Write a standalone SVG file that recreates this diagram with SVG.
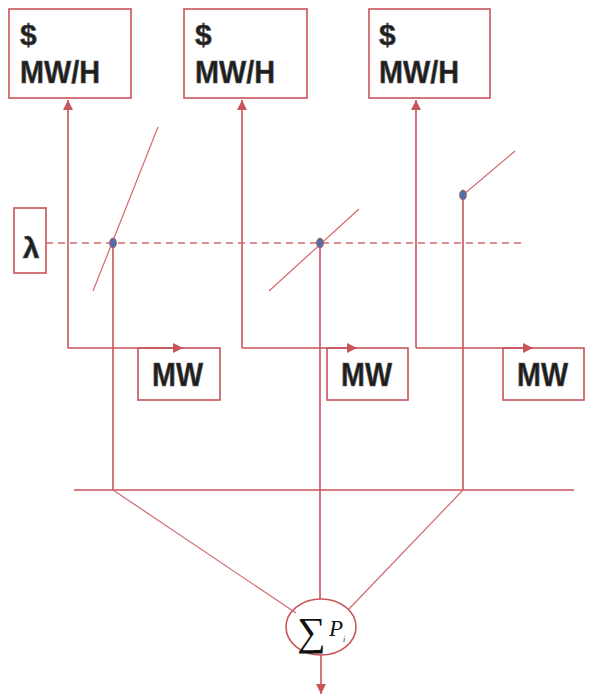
<svg xmlns="http://www.w3.org/2000/svg" width="605" height="698" viewBox="0 0 605 698">
  <style>
    .box { fill: #ffffff; stroke: #c9545a; stroke-width: 1.6; }
    .ln { fill: none; stroke: #c9545a; stroke-width: 1.6; }
    .thin { fill: none; stroke: #d2696d; stroke-width: 1.2; }
    .dash { fill: none; stroke: #d2696d; stroke-width: 1.6; stroke-dasharray: 7 5; }
    .lbl { font-family: "Liberation Sans", Arial, sans-serif; font-weight: bold; fill: #1e1e1e; stroke: #555; stroke-width: 0.6; }
    .dot { fill: #4f6fa8; stroke: #c9545a; stroke-width: 0.8; }
    .math { font-family: "Liberation Serif", "Times New Roman", serif; fill: #111; }
  </style>
  <defs>
    <marker id="arr" viewBox="0 0 10 10" refX="10" refY="5" markerWidth="10" markerHeight="10" markerUnits="userSpaceOnUse" orient="auto">
      <path d="M0,0 L10,5 L0,10 z" fill="#c9545a"/>
    </marker>
  </defs>

  <!-- price boxes -->
  <g id="price1">
    <rect class="box" x="9" y="9" width="122" height="89"/>
    <text class="lbl" x="20" y="45" font-size="30">$</text>
    <text class="lbl" x="20" y="83" font-size="32" textLength="80" lengthAdjust="spacingAndGlyphs">MW/H</text>
  </g>
  <g id="price2">
    <rect class="box" x="184" y="9" width="123" height="89"/>
    <text class="lbl" x="195" y="45" font-size="30">$</text>
    <text class="lbl" x="195" y="83" font-size="32" textLength="80" lengthAdjust="spacingAndGlyphs">MW/H</text>
  </g>
  <g id="price3">
    <rect class="box" x="369" y="9" width="121" height="89"/>
    <text class="lbl" x="379" y="45" font-size="30">$</text>
    <text class="lbl" x="379" y="83" font-size="32" textLength="80" lengthAdjust="spacingAndGlyphs">MW/H</text>
  </g>

  <!-- lambda box -->
  <g id="lambda">
    <rect class="box" x="14" y="208" width="32" height="65"/>
    <text class="lbl" x="31" y="258" font-size="30" text-anchor="middle">λ</text>
  </g>

  <!-- output boxes -->
  <g id="mw1">
    <rect class="box" x="138" y="348" width="82" height="52"/>
    <text class="lbl" x="152" y="386" font-size="34" textLength="51" lengthAdjust="spacingAndGlyphs">MW</text>
  </g>
  <g id="mw2">
    <rect class="box" x="327" y="348" width="81" height="52"/>
    <text class="lbl" x="341" y="386" font-size="34" textLength="51" lengthAdjust="spacingAndGlyphs">MW</text>
  </g>
  <g id="mw3">
    <rect class="box" x="503" y="348" width="81" height="52"/>
    <text class="lbl" x="517" y="386" font-size="34" textLength="51" lengthAdjust="spacingAndGlyphs">MW</text>
  </g>

  <!-- summation node -->
  <g id="sum">
    <ellipse class="ln" cx="321" cy="627" rx="35" ry="28" fill="#fff"/>
    <text class="math" x="297" y="645" font-size="40">∑</text>
    <text class="math" x="329" y="636" font-size="23" font-style="italic">P</text>
    <text class="math" x="343" y="642" font-size="8" font-style="italic">i</text>
  </g>

  <!-- connectors -->
  <g id="connectors">
    <!-- axes: MW to the right, $/MWh up -->
    <polyline class="ln" points="68,348 68,100" marker-end="url(#arr)"/>
    <polyline class="ln" points="68,348 183,348" marker-end="url(#arr)"/>
    <polyline class="ln" points="242,348 242,100" marker-end="url(#arr)"/>
    <polyline class="ln" points="242,348 357,348" marker-end="url(#arr)"/>
    <polyline class="ln" points="416,348 416,100" marker-end="url(#arr)"/>
    <polyline class="ln" points="416,348 533,348" marker-end="url(#arr)"/>

    <!-- incremental cost curves -->
    <line class="thin" x1="93" y1="291" x2="158" y2="127"/>
    <line class="thin" x1="269" y1="291" x2="359" y2="209"/>
    <line class="thin" x1="463" y1="195" x2="515" y2="151"/>

    <!-- system lambda -->
    <line class="dash" x1="46" y1="243" x2="524" y2="243"/>

    <!-- drops to the bus -->
    <line class="ln" x1="113" y1="243" x2="113" y2="490"/>
    <line class="ln" x1="320" y1="243" x2="320" y2="599"/>
    <line class="ln" x1="463" y1="195" x2="463" y2="490"/>

    <!-- bus -->
    <line class="ln" x1="74" y1="490" x2="574" y2="490"/>

    <!-- into the sum -->
    <line class="thin" x1="113" y1="490" x2="296" y2="613"/>
    <line class="thin" x1="463" y1="490" x2="348" y2="610"/>
    <line class="ln" x1="321" y1="655" x2="321" y2="694" marker-end="url(#arr)"/>

    <!-- operating points -->
    <ellipse class="dot" cx="113" cy="243" rx="3.5" ry="5"/>
    <ellipse class="dot" cx="320" cy="243" rx="3.5" ry="5"/>
    <ellipse class="dot" cx="463" cy="195" rx="3.5" ry="5"/>
  </g>
</svg>
